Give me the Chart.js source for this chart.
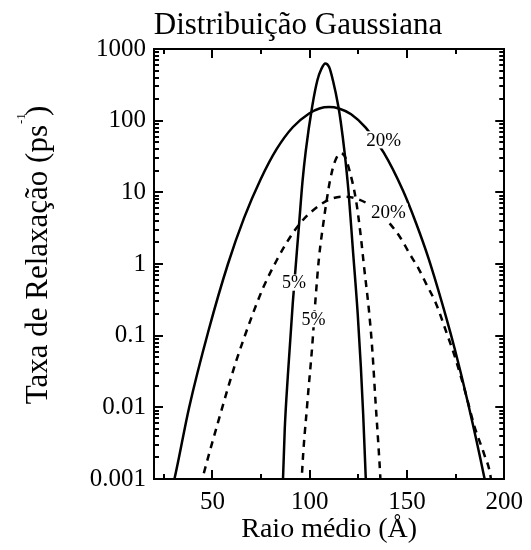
<!DOCTYPE html>
<html>
<head>
<meta charset="utf-8">
<script src="https://cdn.jsdelivr.net/npm/chart.js@4"></script>
<style>
  html, body { margin: 0; padding: 0; background: #fff; }
  #wrap { width: 531px; height: 550px; }
</style>
</head>
<body>
<div id="wrap"><canvas id="gaussChart" width="531" height="550"></canvas></div>
<script>
// curves: radius (Å) and relaxation rate (ps^-1)
const solid20X = [29, 30.5, 38, 48, 58, 66.3, 74.7, 83, 91.3, 99.7, 105, 110, 115, 121.3, 128.8, 138, 148, 154.7, 161.3, 170, 174.7, 181.3, 189.7, 191];
const solid20Y = [0.0007, 0.001, 0.0098, 0.117, 1.0, 4.4, 15, 40, 81, 126, 148, 155, 148, 123, 80, 36, 10.5, 3.7, 1.15, 0.186, 0.063, 0.0117, 0.00107, 0.0007];

const solid5X = [86, 86.3, 87.2, 88.8, 91.3, 94.7, 96.3, 98, 101.3, 104, 106, 108, 110, 112, 114.7, 116, 118, 120, 122.2, 124.7, 126.3, 127.5, 128.8, 129.1];
const solid5Y = [0.0007, 0.001, 0.005, 0.028, 0.28, 4.0, 14, 38, 158, 370, 525, 630, 560, 360, 160, 95, 35, 10, 1.6, 0.2, 0.037, 0.008, 0.00107, 0.0007];

const dashed5X = [95.8, 96, 98.8, 101.3, 103, 104.7, 107.2, 108.8, 110.5, 113, 116, 118, 120.5, 123.8, 126.3, 128, 130.5, 132.2, 133.8, 135.5, 136.3, 136.6];
const dashed5Y = [0.0008, 0.0011, 0.0115, 0.071, 0.32, 1.15, 4.0, 7.9, 14.8, 27, 35, 32, 20, 7.8, 2.4, 0.89, 0.22, 0.063, 0.0126, 0.0025, 0.00107, 0.0007];

const dashed20X = [44, 45.5, 48.8, 53, 58, 62.2, 66.3, 71.3, 76.3, 83, 88, 94, 101, 110, 117, 125, 135, 146.3, 151.3, 156.3, 159.7, 164.7, 170.5, 174.7, 179.7, 184.7, 189.7, 193, 193.5];
const dashed20Y = [0.0008, 0.00117, 0.0025, 0.0063, 0.0186, 0.044, 0.093, 0.22, 0.48, 1.12, 1.95, 3.4, 5.4, 7.9, 8.7, 8.0, 5.5, 2.4, 1.4, 0.83, 0.54, 0.29, 0.107, 0.05, 0.0174, 0.0054, 0.0022, 0.00107, 0.0008];

// axes
const xMajorTicks = [50, 100, 150, 200];
const xTickLabels = ['50', '100', '150', '200'];
const xMinorTicks = [25, 75, 125, 175];
const yMajorTicks = [0.001, 0.01, 0.1, 1, 10, 100, 1000];
const yTickLabels = ['0.001', '0.01', '0.1', '1', '10', '100', '1000'];

// curve labels, in data coordinates
const curveLabels = [
    { text: '20%', x: 138, y: 54, size: 19 },
    { text: '20%', x: 140.5, y: 5.3, size: 19 },
    { text: '5%', x: 92, y: 0.55, size: 18 },
    { text: '5%', x: 102, y: 0.17, size: 18 }
];

const SERIF = '"Liberation Serif", "Times New Roman", serif';

const toPoints = (xs, ys) => xs.map((x, i) => ({ x: x, y: ys[i] }));

const lineSet = (xs, ys, dashed) => ({
    data: toPoints(xs, ys),
    borderColor: '#000',
    borderWidth: 2.5,
    borderDash: dashed ? [7, 6] : [],
    pointRadius: 0,
    cubicInterpolationMode: 'monotone',
    fill: false
});

// percentage labels sitting on the curves (white box breaks the line)
const curveText = {
    id: 'curveText',
    afterDatasetsDraw(chart) {
        const { ctx, scales } = chart;
        ctx.save();
        ctx.textAlign = 'center';
        ctx.textBaseline = 'middle';
        curveLabels.forEach(l => {
            const px = scales.x.getPixelForValue(l.x);
            const py = scales.y.getPixelForValue(l.y);
            ctx.font = `${l.size}px ${SERIF}`;
            const w = ctx.measureText(l.text).width;
            ctx.fillStyle = '#fff';
            ctx.fillRect(px - w / 2 - 2, py - l.size * 0.45, w + 4, l.size * 0.9);
            ctx.fillStyle = '#000';
            ctx.fillText(l.text, px, py + 1);
        });
        ctx.restore();
    }
};

// tick marks pointing into the plot on all four sides
const inwardTicks = {
    id: 'inwardTicks',
    afterDraw(chart) {
        const { ctx, chartArea } = chart;
        const xs = chart.scales.x, ys = chart.scales.y;
        const L = chartArea.left, R = chartArea.right, T = chartArea.top, B = chartArea.bottom;
        ctx.save();
        ctx.fillStyle = '#000';
        const xTick = (v, len) => {
            const px = Math.round(xs.getPixelForValue(v));
            ctx.fillRect(px - 1, B - len, 2, len);
            ctx.fillRect(px - 1, T, 2, len);
        };
        const yTick = (v, len) => {
            const py = Math.round(ys.getPixelForValue(v));
            ctx.fillRect(L, py - 1, len, 2);
            ctx.fillRect(R - len, py - 1, len, 2);
        };
        xMajorTicks.forEach(v => xTick(v, 9));
        xMinorTicks.forEach(v => xTick(v, 5));
        yMajorTicks.forEach((d, i) => {
            yTick(d, 9);
            if (i < yMajorTicks.length - 1) {
                for (let k = 2; k <= 9; k++) yTick(d * k, 5);
            }
        });
        ctx.restore();
    }
};

// chart title and the y title with its superscript
const titles = {
    id: 'titles',
    afterDraw(chart) {
        const { ctx } = chart;
        ctx.save();
        ctx.fillStyle = '#000';
        ctx.textAlign = 'center';
        ctx.textBaseline = 'alphabetic';
        ctx.font = `31px ${SERIF}`;
        ctx.fillText('Distribuição Gaussiana', 298, 34);

        ctx.translate(47, 255);
        ctx.rotate(-Math.PI / 2);
        ctx.textAlign = 'left';
        ctx.font = `31px ${SERIF}`;
        const main = 'Taxa de Relaxação (ps';
        const wMain = ctx.measureText(main).width;
        const wClose = ctx.measureText(')').width;
        const gap = 9;
        const start = -(wMain + gap + wClose) / 2;
        ctx.fillText(main, start, 0);
        ctx.fillText(')', start + wMain + gap, 0);
        ctx.font = `13px ${SERIF}`;
        ctx.fillText('-1', start + wMain + 1, -22);
        ctx.restore();
    }
};

new Chart(document.getElementById('gaussChart'), {
    type: 'line',
    data: {
        datasets: [
            lineSet(solid20X, solid20Y, false),
            lineSet(solid5X, solid5Y, false),
            lineSet(dashed20X, dashed20Y, true),
            lineSet(dashed5X, dashed5Y, true)
        ]
    },
    options: {
        responsive: false,
        animation: false,
        layout: { padding: 0 },
        plugins: {
            legend: { display: false },
            tooltip: { enabled: false },
            title: { display: false }
        },
        scales: {
            x: {
                type: 'linear',
                position: 'bottom',
                min: 20,
                max: 200,
                afterBuildTicks: s => { s.ticks = xMajorTicks.map(v => ({ value: v })); },
                afterFit: s => { s.height = 71; },
                ticks: {
                    autoSkip: false,
                    maxRotation: 0,
                    padding: 8,
                    color: '#000',
                    font: { family: SERIF, size: 25 },
                    callback: (v, i) => xTickLabels[i]
                },
                grid: { display: false, drawTicks: false },
                border: { display: true, color: '#000', width: 2 },
                title: {
                    display: true,
                    text: 'Raio médio (Å)',
                    color: '#000',
                    font: { family: SERIF, size: 28 },
                    padding: { top: 0, bottom: 4 }
                }
            },
            x2: {
                type: 'linear',
                position: 'top',
                min: 20,
                max: 200,
                afterFit: s => { s.height = 49; },
                ticks: { display: false },
                grid: { display: false, drawTicks: false },
                border: { display: true, color: '#000', width: 2 }
            },
            y: {
                type: 'logarithmic',
                position: 'left',
                min: 0.001,
                max: 1000,
                afterBuildTicks: s => { s.ticks = yMajorTicks.map(v => ({ value: v })); },
                afterFit: s => { s.width = 154; },
                ticks: {
                    autoSkip: false,
                    padding: 8,
                    color: '#000',
                    font: { family: SERIF, size: 25 },
                    callback: (v, i) => yTickLabels[i]
                },
                grid: { display: false, drawTicks: false },
                border: { display: true, color: '#000', width: 2 }
            },
            y2: {
                type: 'logarithmic',
                position: 'right',
                min: 0.001,
                max: 1000,
                afterFit: s => { s.width = 17; },
                ticks: { display: false },
                grid: { display: false, drawTicks: false },
                border: { display: true, color: '#000', width: 2 }
            }
        }
    },
    plugins: [curveText, inwardTicks, titles]
});
</script>
</body>
</html>
